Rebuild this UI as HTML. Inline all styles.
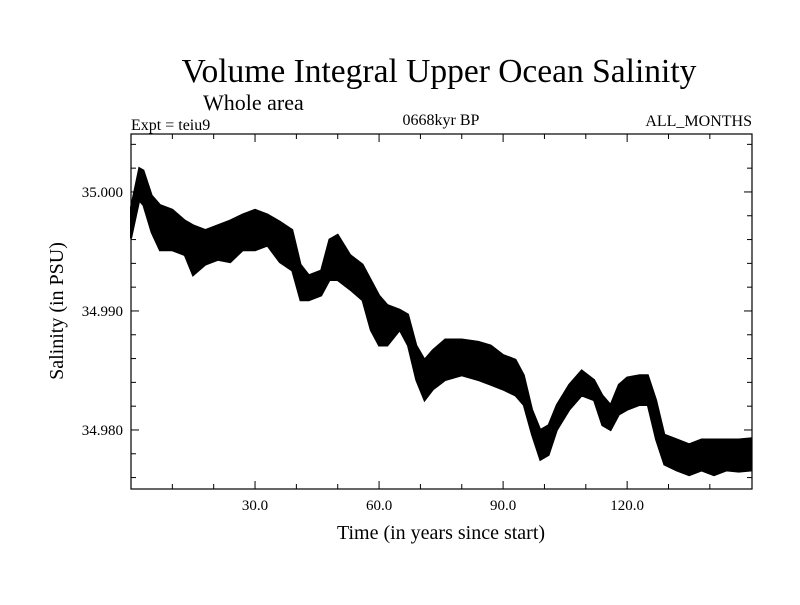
<!DOCTYPE html>
<html><head><meta charset="utf-8"><style>
body{margin:0;background:#fff}
svg text{font-family:"Liberation Serif",serif;fill:#000}
</style></head><body>
<svg width="800" height="600" viewBox="0 0 800 600">
<text x="439" y="82" font-size="33.5" text-anchor="middle">Volume Integral Upper Ocean Salinity</text>
<text x="203" y="110" font-size="22">Whole area</text>
<text x="131" y="130" font-size="16">Expt = teiu9</text>
<text x="441" y="125" font-size="16" text-anchor="middle">0668kyr BP</text>
<text x="752" y="126" font-size="16" text-anchor="end">ALL_MONTHS</text>
<g id="axes"></g>
<g id="marks"></g>
<rect x="131" y="134" width="621" height="355" fill="none" stroke="#000" stroke-width="1.2"/>
<text x="441" y="539" font-size="20" text-anchor="middle">Time (in years since start)</text>
<text transform="translate(63,311) rotate(-90)" font-size="20" text-anchor="middle">Salinity (in PSU)</text>
</svg>
<script>
const years=[0,2,3,5,7,10,13,15,18,21,24,27,30,33,36,39,41,43,46,48,50,53,56,58,60,62,65,67,69,71,73,76,80,84,87,90,93,95,97,99,101,103,106,109,112,114,116,118,120,123,125,127,129,132,135,138,141,144,147,150];
const hiVals=[34.9987,35.0020,35.0018,34.9997,34.9989,34.9985,34.9976,34.9972,34.9968,34.9972,34.9976,34.9981,34.9985,34.9981,34.9975,34.9968,34.9939,34.9930,34.9934,34.9960,34.9964,34.9947,34.9939,34.9926,34.9913,34.9905,34.9901,34.9897,34.9871,34.9859,34.9867,34.9876,34.9876,34.9874,34.9871,34.9863,34.9859,34.9846,34.9817,34.9800,34.9804,34.9821,34.9838,34.9850,34.9842,34.9829,34.9821,34.9838,34.9844,34.9846,34.9846,34.9825,34.9796,34.9792,34.9788,34.9792,34.9792,34.9792,34.9792,34.9793];
const loVals=[34.9961,34.9993,34.9989,34.9966,34.9951,34.9951,34.9947,34.9930,34.9939,34.9943,34.9941,34.9951,34.9951,34.9955,34.9941,34.9934,34.9909,34.9909,34.9913,34.9926,34.9926,34.9918,34.9909,34.9884,34.9871,34.9871,34.9884,34.9871,34.9842,34.9825,34.9834,34.9842,34.9846,34.9842,34.9838,34.9834,34.9829,34.9821,34.9796,34.9775,34.9779,34.9800,34.9817,34.9829,34.9825,34.9804,34.9800,34.9813,34.9817,34.9821,34.9821,34.9792,34.9771,34.9766,34.9762,34.9766,34.9762,34.9766,34.9765,34.9766];
const xTicks=[30,60,90,120];
const xTickLabels=["30.0","60.0","90.0","120.0"];
const yTicks=[34.98,34.99,35.0];
const yTickLabels=["34.980","34.990","35.000"];
const X0=131,X1=752,Y0=134,Y1=489,XMIN=0,XMAX=150.2,YMIN=34.97504,YMAX=35.00487;
const sx=v=>X0+(v-XMIN)/(XMAX-XMIN)*(X1-X0);
const sy=v=>Y1-(v-YMIN)/(YMAX-YMIN)*(Y1-Y0);
const NS="http://www.w3.org/2000/svg";
const axes=document.getElementById('axes'),marks=document.getElementById('marks');
function mk(tag,attrs,parent){const e=document.createElementNS(NS,tag);for(const k in attrs)e.setAttribute(k,attrs[k]);parent.appendChild(e);return e;}
for(let t=10;t<150;t+=10){
  const major=t%30===0,len=major?8:5,x=sx(t);
  const a=mk('line',{x1:x,x2:x,y1:Y1,y2:Y1-len,stroke:'#000'},axes);
  
  
  const b=mk('line',{x1:x,x2:x,y1:Y0,y2:Y0+len,stroke:'#000'},axes);
  
  
}
xTicks.forEach((t,i)=>{
  const e=mk('text',{x:sx(t),y:510,'font-size':15,'text-anchor':'middle'},axes);e.textContent=xTickLabels[i];
  
  
});
for(let k=0;k<=15;k++){
  const v=34.976+k*0.002;if(v>YMAX)break;
  const major=Math.abs((v*1000)%10)<0.01||Math.abs((v*1000)%10-10)<0.01,len=major?8:5,y=sy(v);
  const a=mk('line',{x1:X0,x2:X0+len,y1:y,y2:y,stroke:'#000'},axes);
  
  
  const b=mk('line',{x1:X1,x2:X1-len,y1:y,y2:y,stroke:'#000'},axes);
  
  
}
yTicks.forEach((v,i)=>{
  const e=mk('text',{x:123,y:sy(v)+5,'font-size':15,'text-anchor':'end'},axes);e.textContent=yTickLabels[i];
  
  
});
let pts=years.map((t,i)=>sx(t)+','+sy(hiVals[i]));
for(let i=years.length-1;i>=0;i--)pts.push(sx(years[i])+','+sy(loVals[i]));
const band=mk('polygon',{points:pts.join(' '),fill:'#000',stroke:'#000','stroke-width':2,'stroke-linejoin':'miter'},marks);


</script>
</body></html>
